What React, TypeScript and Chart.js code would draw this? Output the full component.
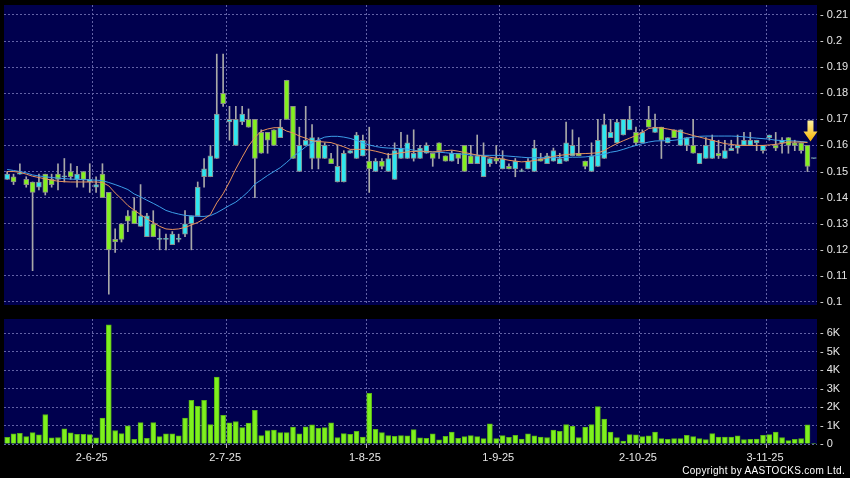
import React, { useEffect, useRef } from "react";
import { Chart, registerables } from "chart.js";

Chart.register(...registerables);

// ---------- data ----------
const dates = [
  "14-5-25","15-5-25","16-5-25","19-5-25","20-5-25","21-5-25","22-5-25","23-5-25","26-5-25","27-5-25","28-5-25","29-5-25","30-5-25",
  "2-6-25","3-6-25","4-6-25","5-6-25","6-6-25","9-6-25","10-6-25","11-6-25","12-6-25","13-6-25","16-6-25","17-6-25","18-6-25","19-6-25","20-6-25","23-6-25","24-6-25","25-6-25","26-6-25","27-6-25","30-6-25",
  "2-7-25","3-7-25","4-7-25","7-7-25","8-7-25","9-7-25","10-7-25","11-7-25","14-7-25","15-7-25","16-7-25","17-7-25","18-7-25","21-7-25","22-7-25","23-7-25","24-7-25","25-7-25","28-7-25","29-7-25","30-7-25","31-7-25",
  "1-8-25","4-8-25","5-8-25","6-8-25","7-8-25","8-8-25","11-8-25","12-8-25","13-8-25","14-8-25","15-8-25","18-8-25","19-8-25","20-8-25","21-8-25","22-8-25","25-8-25","26-8-25","27-8-25","28-8-25","29-8-25",
  "1-9-25","2-9-25","3-9-25","4-9-25","5-9-25","8-9-25","9-9-25","10-9-25","11-9-25","12-9-25","15-9-25","16-9-25","17-9-25","18-9-25","19-9-25","22-9-25","23-9-25","24-9-25","25-9-25","26-9-25","29-9-25","30-9-25",
  "2-10-25","3-10-25","6-10-25","8-10-25","9-10-25","10-10-25","13-10-25","14-10-25","15-10-25","16-10-25","17-10-25","20-10-25","21-10-25","22-10-25","23-10-25","24-10-25","27-10-25","28-10-25","30-10-25","31-10-25",
  "3-11-25","4-11-25","5-11-25","6-11-25","7-11-25","10-11-25","11-11-25","12-11-25","13-11-25",
];

const opens = [
  .147,.148,.149,.147,.146,.144,.149,.147,.149,.148,
  .150,.147,.150,.146,.144,.149,.142,.124,.130,.133,
  .135,.129,.125,.130,.124,.124,.122,.124,.126,.130,
  .133,.148,.148,.155,.180,.169,.160,.169,.170,.170,
  .165,.165,.166,.163,.185,.175,.150,.160,.155,.162,
  .155,.155,.146,.146,.157,.155,.156,.154,.150,.154,
  .150,.147,.155,.155,.155,.155,.157,.157,.161,.156,
  .154,.157,.160,.156,.153,.148,.153,.155,.151,.152,
  .151,.150,.151,.150,.155,.153,.154,.153,.154,.156,
  .157,.154,.150,.152,.155,.163,.161,.164,.166,.165,
  .161,.170,.165,.167,.161,.166,.160,.160,.160,.153,
  .155,.155,.157,.155,.158,.159,.160,.160,.161,.158,
  .163,.160,.161,.163,.161,.161,.160,.155,
];
const highs = [
  .150,.149,.153,.148,.146,.149,.149,.149,.153,.155,
  .153,.152,.150,.153,.148,.153,.142,.128,.130,.135,
  .140,.145,.134,.135,.128,.126,.127,.126,.135,.133,
  .146,.155,.160,.195,.195,.175,.175,.175,.174,.170,
  .166,.165,.166,.170,.185,.175,.167,.175,.168,.163,
  .161,.157,.160,.158,.158,.165,.164,.167,.155,.155,
  .157,.161,.165,.164,.166,.160,.161,.157,.161,.156,
  .158,.157,.160,.160,.164,.161,.155,.160,.158,.153,
  .155,.151,.155,.162,.157,.157,.159,.157,.169,.166,
  .163,.154,.161,.170,.172,.170,.170,.170,.175,.167,
  .166,.175,.172,.167,.163,.166,.166,.163,.170,.157,
  .163,.164,.162,.162,.162,.164,.165,.165,.162,.160,
  .164,.165,.163,.163,.162,.161,.160,.155,
];
const lows = [
  .147,.145,.149,.144,.112,.143,.141,.144,.143,.146,
  .147,.144,.144,.142,.142,.140,.103,.119,.123,.127,
  .130,.129,.125,.125,.120,.120,.122,.123,.125,.120,
  .133,.144,.148,.155,.175,.162,.160,.168,.167,.140,
  .157,.157,.160,.163,.170,.155,.150,.160,.151,.151,
  .155,.153,.146,.146,.157,.155,.156,.142,.150,.151,
  .150,.147,.155,.155,.154,.155,.157,.152,.155,.154,
  .154,.153,.150,.153,.153,.148,.152,.153,.151,.151,
  .148,.150,.151,.150,.154,.153,.154,.153,.154,.156,
  .156,.151,.150,.152,.155,.163,.161,.164,.166,.160,
  .161,.167,.165,.155,.161,.163,.160,.158,.157,.153,
  .155,.155,.155,.155,.158,.157,.160,.160,.158,.157,
  .162,.158,.157,.157,.158,.157,.150,.155,
];
const closes = [
  .149,.146,.149,.145,.142,.146,.142,.145,.147,.148,
  .148,.149,.147,.147,.145,.140,.120,.123,.124,.131,
  .130,.133,.133,.125,.124,.124,.126,.124,.130,.133,
  .144,.151,.156,.172,.176,.170,.170,.172,.167,.155,
  .157,.162,.160,.167,.170,.155,.160,.162,.163,.155,
  .160,.153,.152,.157,.158,.164,.162,.151,.154,.152,
  .155,.158,.159,.161,.157,.159,.160,.155,.158,.154,
  .157,.155,.150,.153,.156,.156,.155,.154,.155,.151,
  .154,.150,.154,.159,.154,.156,.158,.155,.161,.160,
  .156,.152,.156,.162,.168,.165,.169,.170,.170,.161,
  .165,.167,.167,.162,.163,.163,.166,.163,.157,.157,
  .160,.162,.156,.158,.159,.160,.162,.162,.162,.160,
  .164,.159,.162,.160,.160,.158,.152,.155,
];

const ma10 = [
  .150,.150,.1497,.149,.1482,.1477,.1472,.1467,.1463,.1461,
  .146,.146,.146,.146,.146,.1458,.1445,.1418,.1395,.137,
  .1352,.1335,.1318,.1305,.129,.128,.1278,.128,.1286,.1295,
  .1305,.1318,.1335,.138,.1415,.146,.151,.1555,.1598,.163,
  .1655,.1663,.1668,.1668,.1655,.1648,.1636,.1628,.1618,.1615,
  .1613,.1611,.1603,.1595,.1585,.1585,.1585,.1583,.1578,.1572,
  .1565,.1568,.1572,.1575,.1577,.1578,.1577,.1575,.1577,.158,
  .1582,.1578,.1573,.1568,.1563,.1559,.1555,.1551,.1548,.1543,
  .154,.1537,.1539,.1542,.1546,.1552,.1558,.1562,.1565,.1567,
  .1568,.1569,.157,.1572,.158,.1595,.1607,.1618,.1628,.1638,
  .165,.1665,.1668,.1667,.1663,.1658,.1652,.1645,.1638,.1632,
  .1626,.162,.1613,.1607,.1604,.1601,.16,.16,.16,.16,
  .1602,.1604,.1608,.1613,.1613,.1613,.1611,null,
];
const ma20 = [
  .1508,.1504,.15,.1495,.1487,.1483,.148,.1477,.1475,.1473,
  .1471,.147,.1469,.1468,.1467,.1465,.1458,.145,.1441,.1431,
  .1414,.1403,.139,.1378,.1365,.1351,.1343,.1337,.1332,.133,
  .1328,.1328,.1331,.1342,.1356,.137,.1383,.1402,.1424,.1452,
  .1468,.1485,.15,.1515,.1535,.1557,.1575,.1595,.161,.1622,
  .1632,.1635,.1635,.1632,.1627,.1619,.161,.1602,.1596,.1592,
  .159,.1589,.1588,.1586,.1582,.1578,.1576,.1575,.1574,.1572,
  .157,.1568,.1566,.1564,.1563,.1562,.1562,.1562,.1561,.1559,
  .1557,.1555,.1553,.1553,.1553,.1553,.1553,.1554,.1554,.1555,
  .1555,.1556,.1559,.1562,.1567,.1574,.1578,.1585,.1593,.16,
  .1607,.1613,.1617,.1618,.1618,.162,.1623,.1628,.1632,.1635,
  .1636,.1636,.1636,.1636,.1636,.1635,.1633,.163,.1628,.1626,
  .1624,.162,.1619,.1618,.1617,.1615,.1613,null,
];

const volumes = [
  360,550,580,400,620,490,1600,330,350,820,
  600,530,530,510,330,1400,6450,730,560,980,
  250,1160,310,1160,400,550,550,440,1400,2360,
  2040,2360,1050,3620,1550,1150,1220,890,1130,1820,
  450,730,760,620,620,910,550,930,1040,850,
  890,1150,350,560,530,690,380,2750,800,620,
  450,420,450,440,780,330,310,550,220,420,
  650,310,400,450,400,290,1090,290,450,360,
  470,270,550,440,380,350,760,690,1050,960,
  350,910,1050,2020,1350,650,350,160,510,490,
  400,440,650,290,250,290,290,470,400,290,
  240,560,380,380,380,440,240,250,270,470,
  510,640,350,180,250,300,1040,30,
];

const monthTickLabels = ["2-6-25", "2-7-25", "1-8-25", "1-9-25", "2-10-25", "3-11-25"];
const volTickValues = [0, 1000, 2000, 3000, 4000, 5000, 6000];
const volTickLabels = ["0", "1K", "2K", "3K", "4K", "5K", "6K"];
const arrowDate = "12-11-25";

const PRICE_MIN = 0.09885;
const PRICE_MAX = 0.21383;
const PRICE_STEP = 0.01;
const VOL_MAX = 6770;

// ---------- style ----------
const NAVY = "#00004e";
const GRID = "#6262a6";
const TEXT = "#e6e6e6";
const UP = "#2ee6f0";
const DOWN = "#84f020";
const BODY_EDGE = "#8c8c8c";
const WICK = "#a8a8a8";
const MA10_COLOR = "#e8935c";
const MA20_COLOR = "#3c9ee8";
const VOL_FILL = "#7ef01e";
const VOL_EDGE = "#58b416";
const FONT = "'Liberation Sans', Arial, sans-serif";

const monthIdx = new Set(monthTickLabels.map((l) => dates.indexOf(l)));
const vGridColor = (ctx: any) => (monthIdx.has(ctx.index - 1) ? GRID : "rgba(0,0,0,0)");
const vTickColor = (ctx: any) => (monthIdx.has(ctx.index - 1) ? "#b0b0b0" : "rgba(0,0,0,0)");

const areaBg = {
  id: "areaBg",
  beforeDraw(chart: any) {
    const { ctx, chartArea: a } = chart;
    ctx.save();
    ctx.fillStyle = NAVY;
    ctx.fillRect(a.left, a.top, a.right - a.left, a.bottom - a.top);
    ctx.restore();
  },
};

const arrowPlugin = {
  id: "lastArrow",
  afterDatasetsDraw(chart: any) {
    const i = dates.indexOf(arrowDate);
    const { ctx, scales } = chart;
    const x = scales.x.getPixelForValue(i) + 3;
    const tip = scales.y.getPixelForValue(highs[i]) - 4;
    const g = ctx.createLinearGradient(0, tip - 21, 0, tip);
    g.addColorStop(0, "#fff2a0");
    g.addColorStop(1, "#f7b400");
    ctx.save();
    ctx.beginPath();
    ctx.moveTo(x - 3, tip - 21);
    ctx.lineTo(x + 3, tip - 21);
    ctx.lineTo(x + 3, tip - 10);
    ctx.lineTo(x + 7, tip - 10);
    ctx.lineTo(x, tip);
    ctx.lineTo(x - 7, tip - 10);
    ctx.lineTo(x - 3, tip - 10);
    ctx.closePath();
    ctx.fillStyle = g;
    ctx.fill();
    ctx.restore();
  },
};

const tickFont = { family: FONT, size: 11 };

export default function App() {
  const priceRef = useRef<HTMLCanvasElement>(null);
  const volRef = useRef<HTMLCanvasElement>(null);

  useEffect(() => {
    const wicks = lows.map((l, i) => [l, highs[i]]);
    const bodies = opens.map((o, i) => [o, closes[i]]);

    const priceChart = new Chart(priceRef.current as HTMLCanvasElement, {
      type: "bar",
      data: {
        labels: dates,
        datasets: [
          {
            type: "line",
            data: ma10 as any,
            borderColor: MA10_COLOR,
            borderWidth: 1,
            pointRadius: 0,
            fill: false,
            order: 0,
          } as any,
          {
            type: "line",
            data: ma20 as any,
            borderColor: MA20_COLOR,
            borderWidth: 1,
            pointRadius: 0,
            fill: false,
            order: 1,
          } as any,
          {
            type: "bar",
            data: bodies as any,
            backgroundColor: (c: any) => (closes[c.dataIndex] >= opens[c.dataIndex] ? UP : DOWN),
            borderColor: BODY_EDGE,
            borderWidth: 1,
            borderSkipped: false,
            barThickness: 5,
            minBarLength: 1,
            grouped: false,
            order: 2,
          } as any,
          {
            type: "bar",
            data: wicks as any,
            backgroundColor: WICK,
            borderWidth: 0,
            barThickness: 1,
            grouped: false,
            order: 3,
          } as any,
        ],
      },
      options: {
        animation: false,
        responsive: false,
        events: [],
        layout: { padding: { left: 4, top: 5, bottom: 5, right: 0 } },
        plugins: { legend: { display: false }, tooltip: { enabled: false } },
        scales: {
          x: {
            type: "category",
            offset: true,
            ticks: { display: false, autoSkip: false, maxRotation: 0, minRotation: 0 },
            grid: { offset: true, drawTicks: false, color: vGridColor as any },
            border: { display: false, dash: [2, 2] },
            afterFit: (s: any) => {
              s.height = 0;
              s.paddingLeft = 0;
              s.paddingRight = 0;
            },
          },
          y: {
            position: "right",
            min: PRICE_MIN,
            max: PRICE_MAX,
            ticks: {
              stepSize: PRICE_STEP,
              includeBounds: false,
              maxTicksLimit: 30,
              color: TEXT,
              font: tickFont,
              padding: 3,
              callback: (v: any) => "- " + String(+Number(v).toFixed(2)),
            },
            grid: { color: GRID, drawTicks: false },
            border: { display: false, dash: [2, 2] },
            afterFit: (s: any) => {
              s.width = 33;
              s.paddingTop = 0;
              s.paddingBottom = 0;
            },
          },
        },
      } as any,
      plugins: [areaBg, arrowPlugin],
    });

    const volChart = new Chart(volRef.current as HTMLCanvasElement, {
      type: "bar",
      data: {
        labels: dates,
        datasets: [
          {
            data: volumes,
            backgroundColor: VOL_FILL,
            borderColor: VOL_EDGE,
            borderWidth: 1,
            barThickness: 5,
          } as any,
        ],
      },
      options: {
        animation: false,
        responsive: false,
        events: [],
        layout: { padding: { left: 4, top: 9, bottom: 0, right: 0 } },
        plugins: { legend: { display: false }, tooltip: { enabled: false } },
        scales: {
          x: {
            type: "category",
            offset: true,
            ticks: {
              autoSkip: false,
              maxRotation: 0,
              minRotation: 0,
              color: TEXT,
              font: tickFont,
              padding: 3,
              labelOffset: 2,
              callback: (_v: any, i: number) => (monthIdx.has(i) ? dates[i] : ""),
            },
            grid: {
              offset: true,
              drawTicks: true,
              tickLength: 4,
              color: vGridColor as any,
              tickColor: vTickColor as any,
            },
            border: { display: false, dash: [2, 2] },
            afterFit: (s: any) => {
              s.height = 34;
              s.paddingLeft = 0;
              s.paddingRight = 0;
            },
          },
          y: {
            position: "right",
            min: 0,
            max: VOL_MAX,
            afterBuildTicks: (s: any) => {
              s.ticks = volTickValues.map((v) => ({ value: v }));
            },
            ticks: {
              color: TEXT,
              font: tickFont,
              padding: 3,
              callback: (v: any) => "- " + volTickLabels[volTickValues.indexOf(Number(v))],
            },
            grid: { color: GRID, drawTicks: false },
            border: { display: false, dash: [2, 2] },
            afterFit: (s: any) => {
              s.width = 33;
              s.paddingTop = 0;
              s.paddingBottom = 0;
            },
          },
        },
      } as any,
      plugins: [areaBg],
    });

    return () => {
      priceChart.destroy();
      volChart.destroy();
    };
  }, []);

  return (
    <div
      style={{
        position: "fixed",
        left: 0,
        top: 0,
        width: 850,
        height: 478,
        background: "#000",
        overflow: "hidden",
      }}
    >
      <canvas ref={priceRef} width={850} height={310} style={{ position: "absolute", left: 0, top: 0 }} />
      <canvas ref={volRef} width={850} height={168} style={{ position: "absolute", left: 0, top: 310 }} />
      <div
        style={{
          position: "absolute",
          right: 5,
          top: 465,
          color: "#ffffff",
          fontFamily: FONT,
          fontSize: 10,
          lineHeight: "12px",
          letterSpacing: "0.3px",
          whiteSpace: "nowrap",
        }}
      >
        Copyright by AASTOCKS.com Ltd.
      </div>
    </div>
  );
}
